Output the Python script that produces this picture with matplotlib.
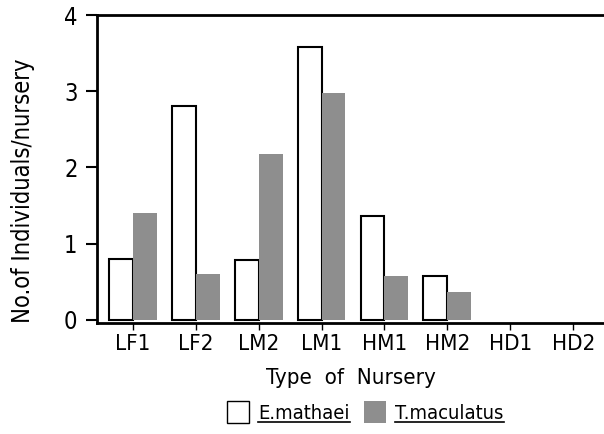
import matplotlib
matplotlib.use("Agg")
import matplotlib.pyplot as plt
from matplotlib.patches import Patch
from matplotlib.lines import Line2D
import numpy as np

# data
nurseries = ["LF1", "LF2", "LM2", "LM1", "HM1", "HM2", "HD1", "HD2"]
e_mathaei = [0.8, 2.8, 0.78, 3.58, 1.36, 0.57, 0, 0]
t_maculatus = [1.4, 0.6, 2.18, 2.98, 0.58, 0.36, 0, 0]

plt.rcParams["font.family"] = ["DejaVu Sans"]
plt.rcParams["font.stretch"] = "condensed"

fig = plt.figure(figsize=(6.04, 4.34), dpi=100)
ax = fig.add_axes([0.1606, 0.2558, 0.8394, 0.7096])

x = np.arange(len(nurseries))
w = 0.38
gray = "#8e8e8e"
# empty nurseries have no visible bar outline
edges = ["black" if v > 0 else "none" for v in e_mathaei]
ax.bar(x - w / 2, e_mathaei, w, color="white", edgecolor=edges, linewidth=1.5, zorder=2)
ax.bar(x + w / 2, t_maculatus, w, color=gray, edgecolor="none", zorder=2)

ax.set_xlim(-0.57, 7.49)
ax.set_ylim(-0.04, 4)
ax.set_xticks(x)
ax.set_xticklabels(nurseries, fontsize=16)
ax.set_yticks([0, 1, 2, 3, 4])
ax.set_yticklabels(["0", "1", "2", "3", "4"], fontsize=17)
ax.tick_params(axis="x", direction="out", length=5, width=1, pad=3)
ax.tick_params(axis="y", direction="out", length=8, width=1.5, pad=6)

ax.spines["right"].set_visible(False)
for s in ["left", "bottom", "top"]:
    ax.spines[s].set_linewidth(2)

ax.set_ylabel("No.of Individuals/nursery", fontsize=17)
ax.yaxis.set_label_coords(-0.122, 0.43)
ax.set_xlabel("Type  of  Nursery", fontsize=16, labelpad=10)

handles = [Patch(facecolor="white", edgecolor="black", linewidth=1),
           Patch(facecolor=gray, edgecolor="none")]
leg = fig.legend(handles, ["E.mathaei", "T.maculatus"], loc="center",
                 bbox_to_anchor=(0.605, 0.05), ncol=2, frameon=False,
                 fontsize=14.5, handlelength=1.1, handleheight=1.3,
                 handletextpad=0.45, columnspacing=0.7)

# underline the species names
fig.canvas.draw()
r = fig.canvas.get_renderer()
for t in leg.get_texts():
    bb = t.get_window_extent(r)
    yy = (bb.y0 + 1) / fig.bbox.height
    fig.add_artist(Line2D([bb.x0 / fig.bbox.width, bb.x1 / fig.bbox.width], [yy, yy],
                          transform=fig.transFigure, color="black", linewidth=1.2))

fig.savefig("out.png", dpi=100)
